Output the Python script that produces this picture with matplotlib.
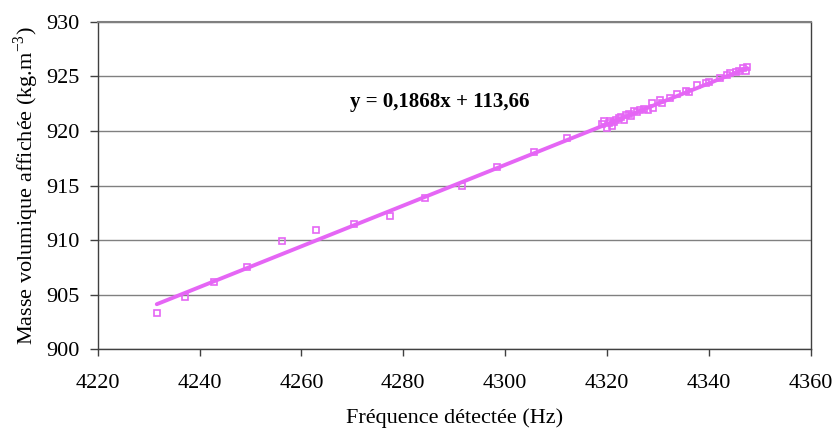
import matplotlib
matplotlib.use("Agg")
import matplotlib.pyplot as plt
import numpy as np

freq = [4231.6, 4237.1, 4242.8, 4249.3, 4256.1, 4262.8, 4270.3, 4277.4, 4284.2,
        4291.5, 4298.4, 4305.7, 4312.1,
        4319.0, 4319.5, 4320.0, 4320.3, 4320.6, 4321.0, 4321.4, 4321.8, 4322.3,
        4322.8, 4323.3, 4323.8, 4324.3, 4324.8, 4325.3, 4325.9, 4326.5, 4327.2,
        4328.0, 4328.8, 4329.0, 4330.3, 4330.8, 4332.4, 4333.8, 4335.5, 4336.0,
        4337.7, 4339.4, 4340.0, 4342.2, 4343.5, 4344.2, 4345.3, 4346.0, 4346.7,
        4347.2, 4347.5]
density = [903.3, 904.8, 906.2, 907.5, 909.9, 910.9, 911.5, 912.2, 913.9,
           915.0, 916.7, 918.1, 919.4,
           920.6, 920.9, 920.3, 920.7, 920.9, 920.5, 920.8, 921.0, 921.2,
           921.3, 921.0, 921.5, 921.6, 921.4, 921.8, 921.7, 921.9, 922.0,
           921.9, 922.6, 922.1, 922.8, 922.6, 923.0, 923.4, 923.7, 923.6,
           924.2, 924.4, 924.5, 924.9, 925.1, 925.3, 925.4, 925.5, 925.8,
           925.5, 925.9]
slope, intercept = 0.1868, 113.66
equation = "y = 0,1868x + 113,66"

plt.rcParams['font.family'] = ['Liberation Serif', 'DejaVu Serif']
plt.rcParams['mathtext.fontset'] = 'custom'
plt.rcParams['mathtext.rm'] = 'Liberation Serif'

fig = plt.figure(figsize=(8.35, 4.30), dpi=100)
ax = fig.add_axes([0.117, 0.188, 0.854, 0.761])

color = '#E566F5'
xs = np.array([min(freq), max(freq)])
ax.plot(xs, slope * xs + intercept, color=color, lw=2.8, zorder=3, solid_capstyle='round')
ax.plot(freq, density, linestyle='none', marker='s', markersize=5,
        markerfacecolor='none', markeredgecolor=color, markeredgewidth=1.2, zorder=4)

ax.set_xlim(4220, 4360)
ax.set_ylim(900, 930)
ax.set_xticks(np.arange(4220, 4361, 20))
ax.set_yticks(np.arange(900, 931, 5))
ax.yaxis.grid(True, color='#808080', lw=1)
ax.set_axisbelow(True)

for s in ['left', 'bottom', 'right']:
    ax.spines[s].set_color('#404040')
    ax.spines[s].set_linewidth(1)
ax.spines['top'].set_color('#808080')
ax.spines['top'].set_linewidth(1.5)

ax.tick_params(axis='y', direction='out', length=6, width=1, color='#404040',
               labelsize=16, pad=7)
ax.tick_params(axis='x', direction='out', length=5, width=1, color='#404040',
               labelsize=16, pad=13)

ax.set_xlabel("Fréquence détectée (Hz)", fontsize=16, labelpad=11)
ax.set_ylabel("Masse volumique affichée (kg.m$^{\\mathregular{-3}}$)", fontsize=16, labelpad=4)

ax.text(0.48, 0.755, equation, transform=ax.transAxes, fontsize=15,
        fontweight='bold', ha='center', va='center')

fig.savefig("out.png", dpi=100)
